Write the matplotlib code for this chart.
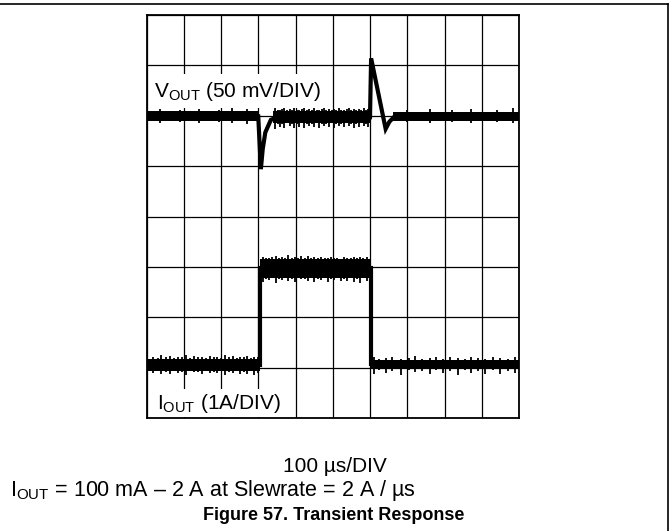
import matplotlib
matplotlib.use("Agg")
import matplotlib.pyplot as plt
from matplotlib.lines import Line2D

plt.rcParams["font.family"] = ["Liberation Sans", "DejaVu Sans"]
plt.rcParams["mathtext.fontset"] = "custom"
plt.rcParams["mathtext.rm"] = "Liberation Sans"
plt.rcParams["mathtext.it"] = "Liberation Sans:italic"
plt.rcParams["mathtext.bf"] = "Liberation Sans:bold"

# ---------- data (time in 100 us divisions, level in screen divisions) ----------

# V_OUT trace centre line (50 mV/DIV)
vout_t = [0.0, 3.0, 3.07, 3.12, 3.19, 3.34, 3.5, 6.0, 6.03, 6.42, 6.52, 6.65, 10.0]
vout_v = [5.99, 5.99, 4.94, 5.34, 5.67, 5.92, 5.97, 5.97, 7.14, 5.74, 5.88, 5.98, 5.99]

# V_OUT noise band segments: start, end, upper, lower
vout_band_t0 = [0.0, 3.4, 6.62]
vout_band_t1 = [3.0, 6.0, 10.0]
vout_band_hi = [6.09, 6.09, 6.08]
vout_band_lo = [5.89, 5.86, 5.90]

# V_OUT comb spikes (ringing after the load step, small noise elsewhere)
vout_spike_t = [0.35, 0.90, 1.40, 1.95, 2.30, 2.70,
                3.45, 3.52, 3.58, 3.64, 3.70, 3.77, 3.84, 3.90, 3.97, 4.04,
                4.10, 4.17, 4.24, 4.30, 4.37, 4.44, 4.50, 4.57, 4.63, 4.70,
                4.77, 4.83, 4.90, 4.97, 5.03, 5.10, 5.17, 5.23, 5.30, 5.37,
                5.43, 5.50, 5.57, 5.63, 5.70, 5.77, 5.83, 5.90, 5.95,
                7.00, 7.60, 8.20, 8.70, 9.40, 9.85]
vout_spike_lo = [5.86, 5.87, 5.85, 5.88, 5.86, 5.84,
                 5.74, 5.84, 5.77, 5.83, 5.75, 5.85, 5.79, 5.84, 5.76, 5.83,
                 5.78, 5.85, 5.75, 5.84, 5.80, 5.83, 5.77, 5.85, 5.76, 5.84,
                 5.79, 5.83, 5.78, 5.85, 5.76, 5.84, 5.80, 5.83, 5.77, 5.85,
                 5.79, 5.84, 5.76, 5.83, 5.78, 5.85, 5.80, 5.84, 5.77,
                 5.87, 5.86, 5.88, 5.86, 5.87, 5.85]
vout_spike_hi = [6.13, 6.12, 6.14, 6.12, 6.15, 6.13,
                 6.15, 6.11, 6.12, 6.13, 6.16, 6.11, 6.13, 6.12, 6.15, 6.11,
                 6.12, 6.13, 6.17, 6.11, 6.13, 6.12, 6.15, 6.11, 6.12, 6.13,
                 6.16, 6.11, 6.14, 6.12, 6.13, 6.11, 6.15, 6.12, 6.12, 6.13,
                 6.16, 6.11, 6.14, 6.12, 6.13, 6.11, 6.15, 6.12, 6.13,
                 6.12, 6.13, 6.11, 6.14, 6.12, 6.15]

# I_OUT trace centre line (1 A/DIV)
iout_t = [0.0, 3.04, 3.04, 6.03, 6.03, 10.0]
iout_v = [1.06, 1.06, 2.97, 2.97, 1.07, 1.07]

# I_OUT noise band segments
iout_band_t0 = [0.0, 3.04, 6.03]
iout_band_t1 = [3.04, 6.03, 10.0]
iout_band_hi = [1.18, 3.16, 1.15]
iout_band_lo = [0.94, 2.78, 0.99]

# I_OUT comb spikes
iout_spike_t = [0.18, 0.30, 0.40, 0.52, 0.62, 0.75, 0.85, 0.95, 1.05, 1.17,
                1.28, 1.38, 1.48, 1.60, 1.70, 1.80, 1.90, 2.01, 2.12, 2.22,
                2.32, 2.42, 2.52, 2.61, 2.70, 2.80, 2.88, 2.98,
                3.12, 3.20, 3.29, 3.38, 3.47, 3.55, 3.63, 3.72, 3.81, 3.90,
                3.99, 4.08, 4.16, 4.25, 4.33, 4.42, 4.51, 4.60, 4.69, 4.78,
                4.86, 4.95, 5.03, 5.12, 5.21, 5.30, 5.39, 5.48, 5.56, 5.65,
                5.74, 5.82, 5.91,
                6.10, 6.25, 6.42, 6.60, 6.82, 7.05, 7.22, 7.40, 7.60, 7.78,
                7.95, 8.15, 8.35, 8.55, 8.72, 8.90, 9.10, 9.30, 9.50, 9.70, 9.88]
iout_spike_lo = [0.90, 0.93, 0.88, 0.92, 0.87, 0.93, 0.90, 0.92, 0.86, 0.93,
                 0.91, 0.92, 0.88, 0.93, 0.90, 0.92, 0.89, 0.93, 0.86, 0.92,
                 0.90, 0.93, 0.87, 0.92, 0.88, 0.93, 0.86, 0.90,
                 2.70, 2.76, 2.73, 2.77, 2.68, 2.76, 2.74, 2.77, 2.71, 2.76,
                 2.69, 2.77, 2.75, 2.76, 2.72, 2.77, 2.70, 2.76, 2.73, 2.77,
                 2.69, 2.76, 2.74, 2.77, 2.71, 2.76, 2.72, 2.77, 2.70, 2.76,
                 2.68, 2.77, 2.71,
                 0.88, 0.95, 0.90, 0.94, 0.86, 0.95, 0.91, 0.94, 0.87, 0.95,
                 0.89, 0.94, 0.86, 0.95, 0.90, 0.94, 0.88, 0.95, 0.87, 0.94, 0.89]
iout_spike_hi = [1.22, 1.20, 1.25, 1.21, 1.24, 1.20, 1.22, 1.21, 1.25, 1.20,
                 1.23, 1.21, 1.22, 1.20, 1.24, 1.21, 1.22, 1.20, 1.25, 1.21,
                 1.23, 1.20, 1.22, 1.21, 1.24, 1.20, 1.22, 1.21,
                 3.20, 3.18, 3.17, 3.19, 3.22, 3.18, 3.19, 3.17, 3.23, 3.18,
                 3.19, 3.17, 3.21, 3.18, 3.22, 3.17, 3.19, 3.18, 3.20, 3.17,
                 3.18, 3.19, 3.17, 3.18, 3.16, 3.19, 3.18, 3.17, 3.19, 3.18,
                 3.20, 3.17, 3.20,
                 1.21, 1.18, 1.19, 1.22, 1.18, 1.20, 1.23, 1.18, 1.19, 1.22,
                 1.18, 1.21, 1.19, 1.18, 1.22, 1.19, 1.18, 1.21, 1.20, 1.18, 1.22]

# ---------- figure ----------

W, H = 670, 531
fig = plt.figure(figsize=(W / 100, H / 100), dpi=100)
ax = fig.add_axes([146.5 / W, 113 / H, 372.5 / W, 403 / H])
ax.set_xlim(0, 10)
ax.set_ylim(0, 8)
ax.set_xticks(range(11))
ax.set_yticks(range(9))
ax.tick_params(length=0, labelbottom=False, labelleft=False)
ax.set_axisbelow(True)
ax.grid(True, color="black", linewidth=0.9)
for sp in ax.spines.values():
    sp.set_linewidth(1.3)
    sp.set_zorder(6)

# traces
for t, v, t0s, t1s, his, los, st, slo, shi in [
    (vout_t, vout_v, vout_band_t0, vout_band_t1, vout_band_hi, vout_band_lo,
     vout_spike_t, vout_spike_lo, vout_spike_hi),
    (iout_t, iout_v, iout_band_t0, iout_band_t1, iout_band_hi, iout_band_lo,
     iout_spike_t, iout_spike_lo, iout_spike_hi),
]:
    ax.plot(t, v, color="black", linewidth=3.0, solid_joinstyle="miter", zorder=3)
    for t0, t1, hi, lo in zip(t0s, t1s, his, los):
        ax.fill_between([t0, t1], [lo, lo], [hi, hi], color="black",
                        linewidth=0, zorder=3)
    ax.vlines(st, slo, shi, color="black", linewidth=1.3, zorder=3)

# channel labels with white boxes hiding the grid
ax.text(0.20, 6.38, r"V$_{\mathregular{OUT}}$ (50 mV/DIV)", fontsize=15,
        ha="left", va="baseline", zorder=4,
        bbox=dict(boxstyle="square,pad=0.25", fc="white", ec="none"))
ax.text(0.28, 0.18, r"I$_{\mathregular{OUT}}$ (1A/DIV)", fontsize=15,
        ha="left", va="baseline", zorder=4,
        bbox=dict(boxstyle="square,pad=0.12", fc="white", ec="none"))

# captions
fig.text(335 / W, 1 - 472 / H, "100 µs/DIV", fontsize=15, ha="center", va="baseline")
fig.text(10 / W, 1 - 496 / H, r"I$_{\mathregular{OUT}}$ = 100 mA – 2 A at Slewrate = 2 A / µs",
         fontsize=15.5, ha="left", va="baseline")
fig.text(334 / W, 1 - 520 / H, "Figure 57. Transient Response", fontsize=13,
         fontweight="bold", ha="center", va="baseline")

# page rules: top and right
fig.add_artist(Line2D([0, 668 / W], [1 - 4 / H, 1 - 4 / H], transform=fig.transFigure,
                      color="black", linewidth=1.2))
fig.add_artist(Line2D([668 / W, 668 / W], [0, 1 - 4 / H], transform=fig.transFigure,
                      color="black", linewidth=1.2))

fig.savefig("out.png", dpi=100)
